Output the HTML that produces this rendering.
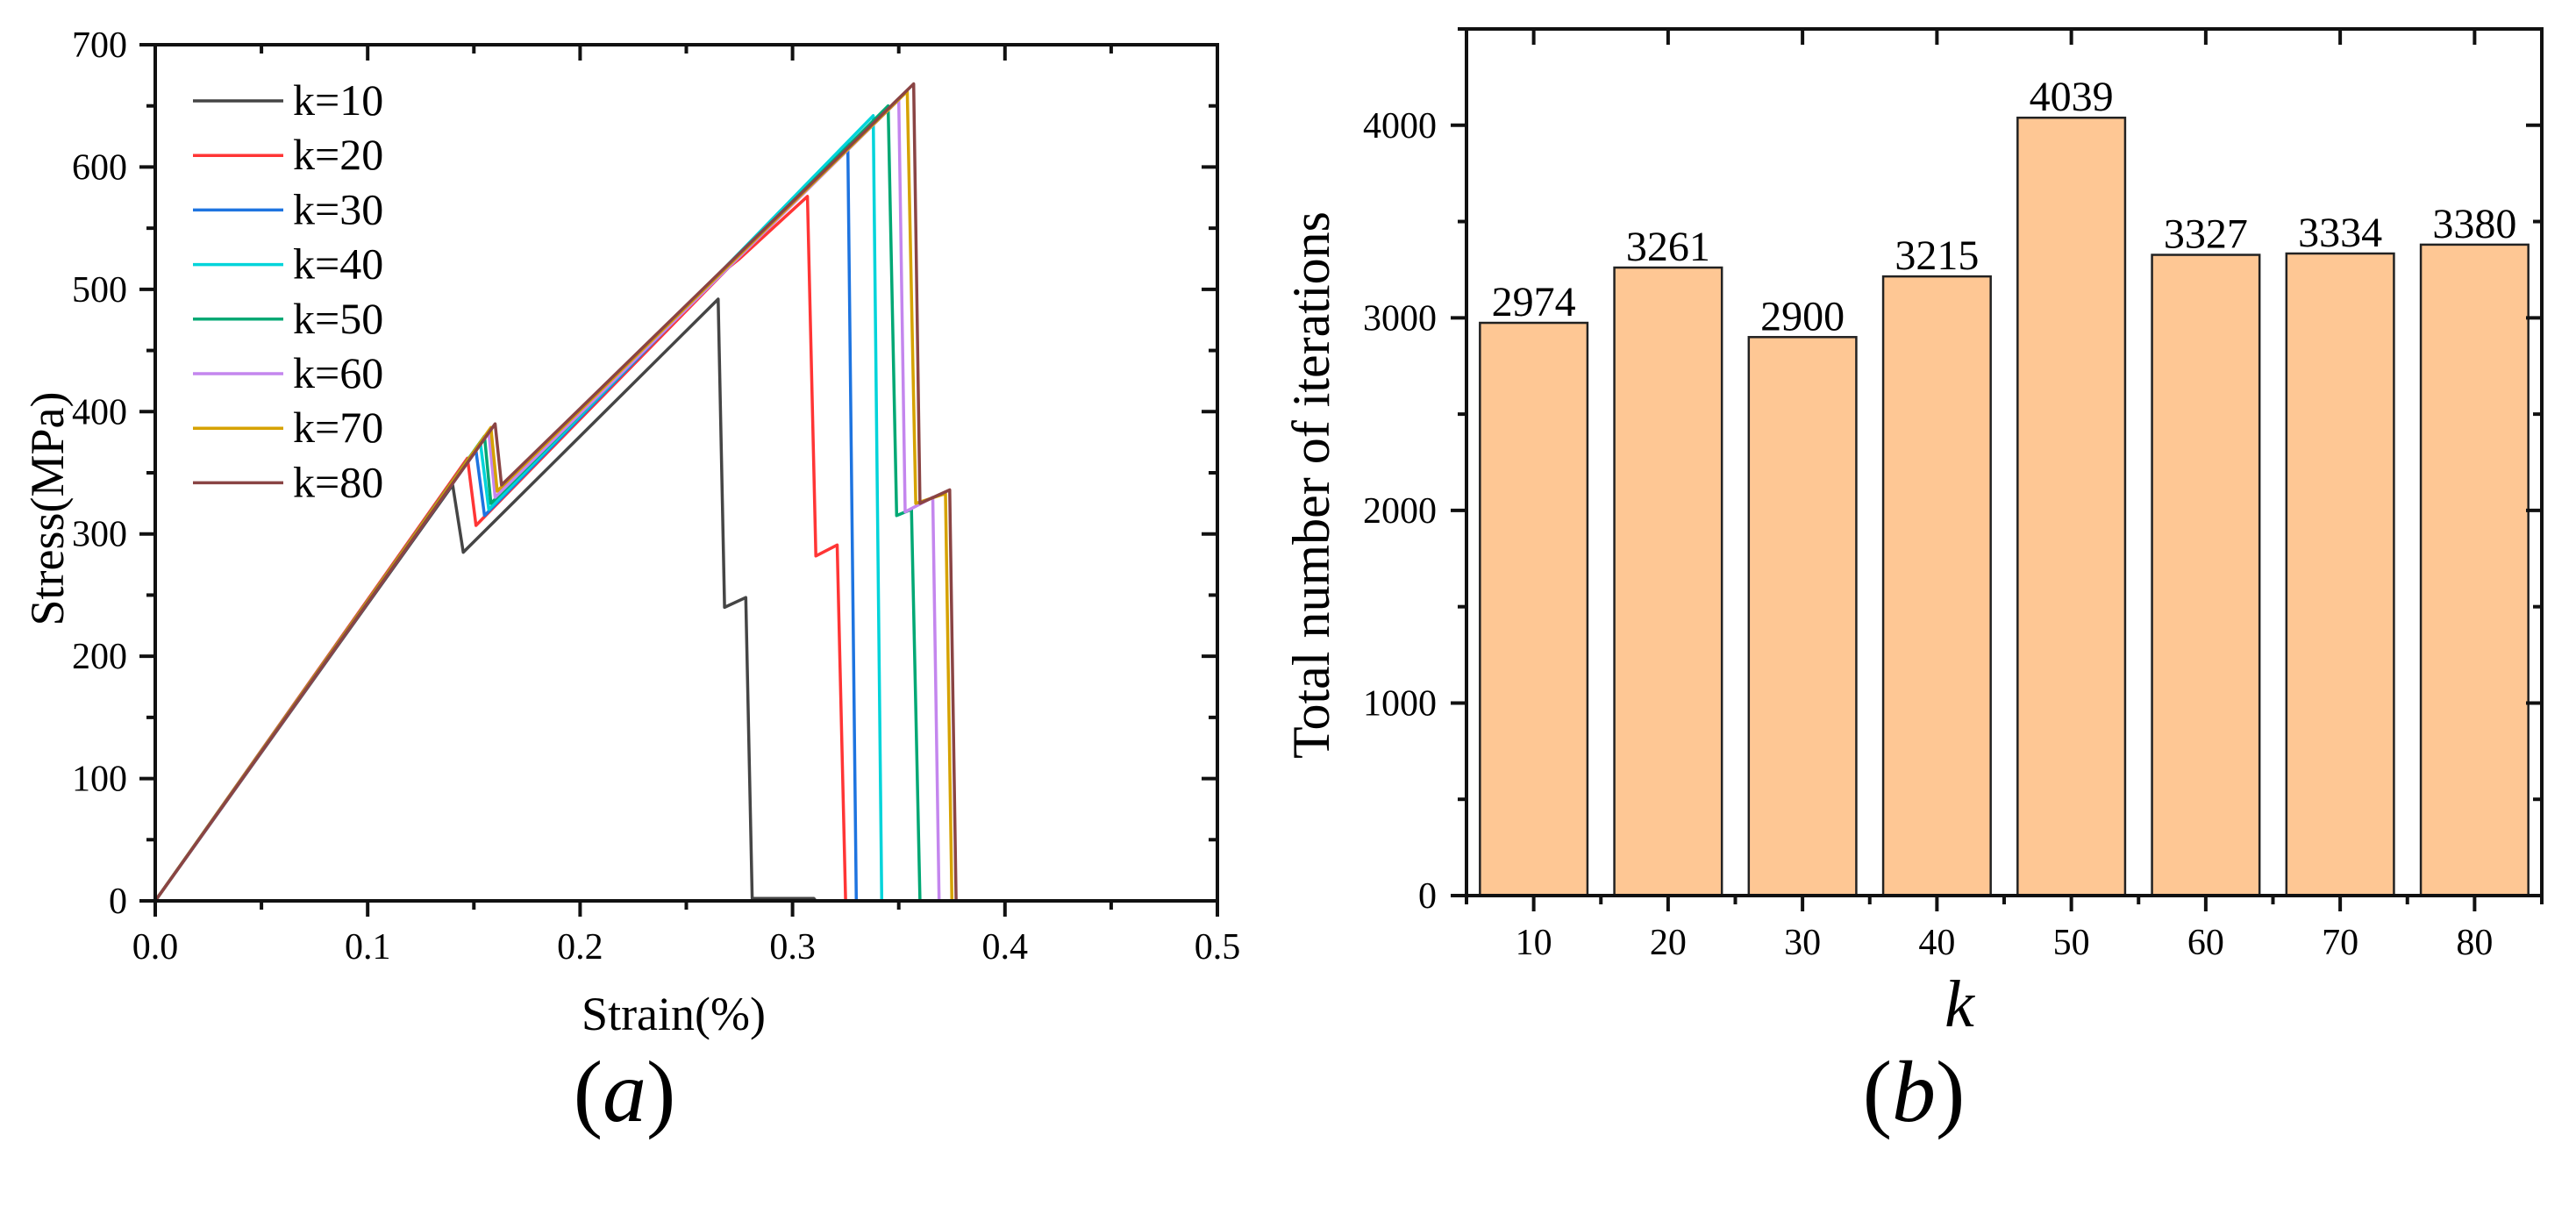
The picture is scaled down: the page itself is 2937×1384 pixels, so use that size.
<!DOCTYPE html>
<html><head><meta charset="utf-8"><style>
body{margin:0;background:#fff;}
svg{display:block;font-family:"Liberation Serif",serif;}
</style></head><body>
<svg id="fig" width="2937" height="1384" viewBox="0 0 2937 1384" xmlns="http://www.w3.org/2000/svg">
<rect width="2937" height="1384" fill="#fff"/>
<g id="chartA"></g>
<g id="chartB"></g>
<text x="712" y="1278" font-size="100" text-anchor="middle">(<tspan font-style="italic">a</tspan>)</text>
<text x="2182" y="1278" font-size="100" text-anchor="middle">(<tspan font-style="italic">b</tspan>)</text>
</svg>
<script>
const NS="http://www.w3.org/2000/svg";
// ---- Chart A data ----
const seriesNames=["k=10","k=20","k=30","k=40","k=50","k=60","k=70","k=80"];
const seriesColors=["#454545","#ff3535","#1e74e0","#00d4da","#00a874","#c486ee","#d6a200","#8a4444"];
const strainK10=[0,0.140,0.145,0.265,0.268,0.278,0.281,0.310,0.311,0.5];
const stressK10=[0,340,285,492,240,248,2,2,0,0];
const strainK20=[0,0.147,0.151,0.270,0.275,0.307,0.311,0.321,0.325,0.5];
const stressK20=[0,362,307,518,525,576,282,291,0,0];
const strainK30=[0,0.151,0.155,0.326,0.330,0.5];
const stressK30=[0,368,315,620,0,0];
const strainK40=[0,0.153,0.157,0.338,0.342,0.5];
const stressK40=[0,375,320,642,0,0];
const strainK50=[0,0.155,0.158,0.345,0.349,0.356,0.360,0.5];
const stressK50=[0,380,325,650,315,320,0,0];
const strainK60=[0,0.157,0.160,0.350,0.353,0.366,0.369,0.5];
const stressK60=[0,383,330,655,318,330,0,0];
const strainK70=[0,0.158,0.161,0.354,0.358,0.372,0.375,0.5];
const stressK70=[0,387,335,662,325,333,0,0];
const strainK80=[0,0.160,0.163,0.357,0.360,0.374,0.377,0.5];
const stressK80=[0,390,340,668,325,336,0,0];
const xTicksA=["0.0","0.1","0.2","0.3","0.4","0.5"];
const yTicksA=["0","100","200","300","400","500","600","700"];
// ---- Chart B data ----
const kCategories=["10","20","30","40","50","60","70","80"];
const iterValues=[2974,3261,2900,3215,4039,3327,3334,3380];
const yTicksB=["0","1000","2000","3000","4000"];

function mk(parent,tag,attrs,text){const e=document.createElementNS(NS,tag);for(const k in attrs)e.setAttribute(k,attrs[k]);if(text!==undefined)e.textContent=text;parent.appendChild(e);return e;}

// Chart A
(function(){
const g=document.getElementById('chartA');
const L=177,R=1388,T=51,B=1027;
const xs=v=>L+(v/0.5)*(R-L), ys=v=>B-(v/700)*(B-T);
const allX=[strainK10,strainK20,strainK30,strainK40,strainK50,strainK60,strainK70,strainK80];
const allY=[stressK10,stressK20,stressK30,stressK40,stressK50,stressK60,stressK70,stressK80];
for(let s=0;s<allX.length;s++){
 const pts=allX[s].map((x,i)=>xs(x).toFixed(1)+","+ys(allY[s][i]).toFixed(1)).join(" ");
 const pl=mk(g,'polyline',{points:pts,fill:'none',stroke:seriesColors[s],'stroke-width':3.5,'stroke-linejoin':'round'});
 
 
}
const fr=mk(g,'rect',{x:L,y:T,width:R-L,height:B-T,fill:'none',stroke:'#111','stroke-width':4});


for(let i=0;i<=10;i++){const v=i*0.05,x=xs(v),len=i%2?10:18;
 mk(g,'line',{x1:x,y1:B,x2:x,y2:B+len,stroke:'#111','stroke-width':4});
 mk(g,'line',{x1:x,y1:T,x2:x,y2:T+len,stroke:'#111','stroke-width':4});}
xTicksA.forEach((t,i)=>{const tx=mk(g,'text',{x:xs(i*0.1),y:1093,'font-size':42,'text-anchor':'middle'},t);
 
 });
for(let i=0;i<=14;i++){const y=ys(i*50),len=i%2?10:18;
 mk(g,'line',{x1:L,y1:y,x2:L-len,y2:y,stroke:'#111','stroke-width':4});
 mk(g,'line',{x1:R,y1:y,x2:R-len,y2:y,stroke:'#111','stroke-width':4});}
yTicksA.forEach((t,i)=>{const tx=mk(g,'text',{x:145,y:ys(i*100)+14,'font-size':42,'text-anchor':'end'},t);
 
 });
const xt=mk(g,'text',{x:768,y:1174,'font-size':54,'text-anchor':'middle'},'Strain(%)');


const yt=mk(g,'text',{x:0,y:0,'font-size':54,'text-anchor':'middle',transform:'translate(72,580) rotate(-90)'},'Stress(MPa)');


seriesNames.forEach((n,i)=>{const y=115+i*62.2;
 const lg=mk(g,'g',{});
 
 
 mk(lg,'line',{x1:220,y1:y,x2:323,y2:y,stroke:seriesColors[i],'stroke-width':3.5});
 mk(lg,'text',{x:334,y:y+16,'font-size':50},n);});
})();

// Chart B
(function(){
const g=document.getElementById('chartB');
const L=1672,R=2898,T=33,B=1021;
const xs=v=>L+(v-5)/80*(R-L), ys=v=>B-(v/4500)*(B-T);
const bw=0.8*10*(R-L)/80;
kCategories.forEach((c,i)=>{const cx=xs(+c),y=ys(iterValues[i]);
 const r=mk(g,'rect',{x:cx-bw/2,y:y,width:bw,height:B-y,fill:'#fec794',stroke:'#222','stroke-width':2.5});
 
 
 const t=mk(g,'text',{x:cx,y:y-8,'font-size':48,'text-anchor':'middle'},String(iterValues[i]));
 
 });
const fr=mk(g,'rect',{x:L,y:T,width:R-L,height:B-T,fill:'none',stroke:'#111','stroke-width':4});


for(let i=0;i<=8;i++){const v=5+i*10,x=xs(v);
 mk(g,'line',{x1:x,y1:B,x2:x,y2:B+10,stroke:'#111','stroke-width':4});}
kCategories.forEach((c,i)=>{const x=xs(+c);
 mk(g,'line',{x1:x,y1:B,x2:x,y2:B+18,stroke:'#111','stroke-width':4});
 mk(g,'line',{x1:x,y1:T,x2:x,y2:T+18,stroke:'#111','stroke-width':4});
 const t=mk(g,'text',{x:x,y:1088,'font-size':42,'text-anchor':'middle'},c);
 
 });
for(let i=0;i<=9;i++){const y=ys(i*500),len=i%2?10:18;
 mk(g,'line',{x1:L,y1:y,x2:L-len,y2:y,stroke:'#111','stroke-width':4});
 mk(g,'line',{x1:R,y1:y,x2:R-len,y2:y,stroke:'#111','stroke-width':4});}
yTicksB.forEach((t,i)=>{const tx=mk(g,'text',{x:1638,y:ys(i*1000)+14,'font-size':42,'text-anchor':'end'},t);
 
 });
const xt=mk(g,'text',{x:2234,y:1170,'font-size':76,'font-style':'italic','text-anchor':'middle'},'k');


const yt=mk(g,'text',{x:0,y:0,'font-size':60,'text-anchor':'middle',transform:'translate(1515,553) rotate(-90)'},'Total number of iterations');


})();
</script>
</body></html>
